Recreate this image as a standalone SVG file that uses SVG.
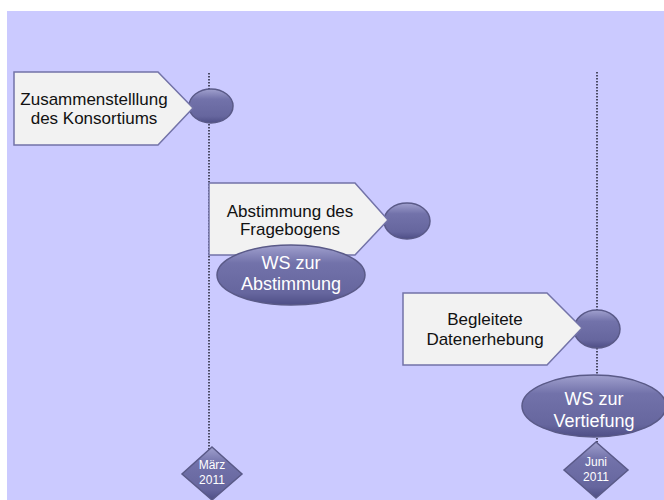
<svg xmlns="http://www.w3.org/2000/svg" width="664" height="500" viewBox="0 0 664 500">
<defs>
<linearGradient id="g" x1="0" y1="0" x2="0" y2="1">
<stop offset="0" stop-color="#a0a0ce"/>
<stop offset="0.3" stop-color="#7272aa"/>
<stop offset="0.8" stop-color="#66669e"/>
<stop offset="1" stop-color="#4e4e86"/>
</linearGradient>
<style>
.bg{fill:#cbcaff}
.dot{stroke:#222233;stroke-width:1.5;stroke-dasharray:1.5 1.5;fill:none}
.pent{fill:#f2f2f2;stroke:#7373a8;stroke-width:1.5}
.blob{fill:url(#g);stroke:#5a5a88;stroke-width:1.5}
.t{font-family:"Liberation Sans",Arial,sans-serif;font-size:17px;text-anchor:middle;fill:#111111}
.w{font-family:"Liberation Sans",Arial,sans-serif;font-size:18px;text-anchor:middle;fill:#ffffff}
.s{font-family:"Liberation Sans",Arial,sans-serif;font-size:12px;text-anchor:middle;fill:#ffffff}
</style>
</defs>
<rect class="bg" x="7" y="11" width="657" height="489"/>
<g id="connectors">
<line class="dot" x1="209" y1="73" x2="209" y2="450"/>
<line class="dot" x1="597" y1="72" x2="597" y2="444"/>
</g>
<g id="milestone1">
<ellipse class="blob" cx="211" cy="106" rx="22" ry="17"/>
<path class="pent" d="M14,72 H158 L193,108 L158,145 H14 Z"/>
<text class="t" x="94" y="105">Zusammenstelllung</text>
<text class="t" x="94" y="124">des Konsortiums</text>
</g>
<g id="milestone2">
<ellipse class="blob" cx="407" cy="221" rx="23" ry="18"/>
<path class="pent" d="M209,183 H355 L388,220 L355,255 H209 Z"/>
<text class="t" x="290" y="217">Abstimmung des</text>
<text class="t" x="290" y="235">Fragebogens</text>
</g>
<g id="ws1">
<ellipse class="blob" cx="291" cy="275" rx="74" ry="30"/>
<text class="w" x="291" y="269">WS zur</text>
<text class="w" x="291" y="290">Abstimmung</text>
</g>
<g id="milestone3">
<ellipse class="blob" cx="597" cy="329" rx="23" ry="19"/>
<path class="pent" d="M403,293 H547 L582,328 L547,365 H403 Z"/>
<text class="t" x="485" y="325">Begleitete</text>
<text class="t" x="485" y="345">Datenerhebung</text>
</g>
<g id="ws2">
<ellipse class="blob" cx="594" cy="406" rx="72" ry="31"/>
<text class="w" x="594" y="405">WS zur</text>
<text class="w" x="594" y="427">Vertiefung</text>
</g>
<g id="maerz">
<path class="blob" d="M212,447 L242,474 L212,500 L182,474 Z"/>
<text class="s" x="212" y="469">März</text>
<text class="s" x="212" y="484">2011</text>
</g>
<g id="juni">
<path class="blob" d="M596,442 L628,470 L596,498 L564,470 Z"/>
<text class="s" x="596" y="466">Juni</text>
<text class="s" x="596" y="481">2011</text>
</g>
</svg>
